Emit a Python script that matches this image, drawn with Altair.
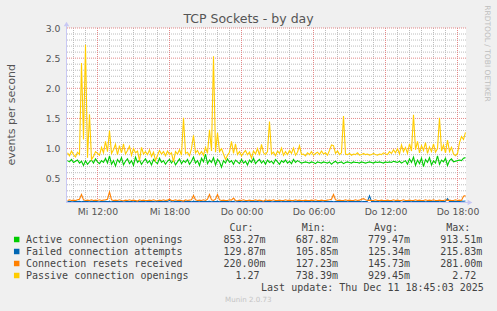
import altair as alt
import pandas as pd

# ---------------- texts ----------------
title_text = "TCP Sockets - by day"
y_axis_title = "events per second"
watermark = "RRDTOOL / TOBI OETIKER"
footer = "Munin 2.0.73"
last_update = "Last update: Thu Dec 11 18:45:03 2025"

# ---------------- axes ----------------
start_hour = 9.5          # Wed 09:30 (hours since Wed 00:00)
step_hours = 1.0 / 6.0    # 10-minute samples
x_domain = [9.375, 42.7083]
y_domain = [0.1058, 3.0]
x_ticks = [12, 18, 24, 30, 36, 42]
x_tick_labels = ["Mi 12:00", "Mi 18:00", "Do 00:00", "Do 06:00", "Do 12:00", "Do 18:00"]
y_ticks = [0.5, 1.0, 1.5, 2.0, 2.5, 3.0]
x_minor = [h for h in range(10, 43) if h not in x_ticks]
y_minor = [round(v / 10, 1) for v in range(2, 30) if v % 5 != 0]

# ---------------- legend ----------------
series_names = ["Active connection openings", "Failed connection attempts",
                "Connection resets received", "Passive connection openings"]
series_colors = ["#00CC00", "#0066B3", "#FF8000", "#FFCC00"]
col_headers = ["Cur:", "Min:", "Avg:", "Max:"]
cur_vals = ["853.27m", "129.87m", "220.00m", "  1.27"]
min_vals = ["687.82m", "105.85m", "127.23m", "738.39m"]
avg_vals = ["779.47m", "125.34m", "145.73m", "929.45m"]
max_vals = ["913.51m", "215.83m", "281.00m", "  2.72"]

# ---------------- series (10-minute samples) ----------------
active = [
    0.80, 0.78, 0.82, 0.77, 0.79, 0.81, 0.76, 0.79, 0.72, 0.80,
    0.74, 0.78, 0.81, 0.76, 0.83, 0.78, 0.75, 0.80, 0.77, 0.84,
    0.76, 0.88, 0.74, 0.80, 0.71, 0.82, 0.77, 0.85, 0.73, 0.79,
    0.83, 0.75, 0.80, 0.72, 0.86, 0.77, 0.81, 0.74, 0.79, 0.83,
    0.76, 0.80, 0.73, 0.82, 0.78, 0.75, 0.84, 0.77, 0.80, 0.74,
    0.79, 0.82, 0.76, 0.81, 0.73, 0.78, 0.83, 0.75, 0.80, 0.77,
    0.82, 0.74, 0.79, 0.86, 0.76, 0.80, 0.72, 0.84, 0.78, 0.91,
    0.75, 0.81, 0.77, 0.85, 0.73, 0.82, 0.78, 0.69, 0.80, 0.76,
    0.83, 0.77, 0.80, 0.74, 0.81, 0.78, 0.75, 0.82, 0.76, 0.79,
    0.73, 0.81, 0.77, 0.84, 0.75, 0.79, 0.82, 0.76, 0.80, 0.74,
    0.81, 0.77, 0.79, 0.75, 0.82, 0.78, 0.74, 0.80, 0.77, 0.81,
    0.76, 0.79, 0.75, 0.82, 0.77, 0.80, 0.78, 0.76, 0.77, 0.78,
    0.77, 0.76, 0.78, 0.77, 0.75, 0.78, 0.77, 0.76, 0.78, 0.77,
    0.76, 0.78, 0.74, 0.77, 0.79, 0.76, 0.77, 0.78, 0.75, 0.77,
    0.78, 0.77, 0.76, 0.78, 0.77, 0.77, 0.76, 0.78, 0.77, 0.76,
    0.77, 0.78, 0.77, 0.76, 0.78, 0.77, 0.78, 0.77, 0.76, 0.78,
    0.77, 0.78, 0.77, 0.79, 0.78, 0.77, 0.79, 0.76, 0.78, 0.80,
    0.74, 0.83, 0.77, 0.86, 0.72, 0.81, 0.75, 0.84, 0.70, 0.82,
    0.77, 0.85, 0.73, 0.80, 0.76, 0.88, 0.74, 0.81, 0.78, 0.84,
    0.72, 0.80, 0.83, 0.78, 0.79, 0.80, 0.81, 0.80, 0.84, 0.85,
]
failed = [
    0.120, 0.125, 0.118, 0.122, 0.128, 0.120, 0.124, 0.119, 0.126, 0.121,
    0.123, 0.118, 0.125, 0.120, 0.127, 0.122, 0.119, 0.124, 0.121, 0.126,
    0.120, 0.123, 0.118, 0.125, 0.121, 0.127, 0.120, 0.124, 0.119, 0.122,
    0.126, 0.120, 0.123, 0.118, 0.125, 0.121, 0.124, 0.120, 0.127, 0.119,
    0.122, 0.125, 0.120, 0.123, 0.118, 0.126, 0.121, 0.124, 0.120, 0.128,
    0.122, 0.140, 0.123, 0.119, 0.125, 0.121, 0.124, 0.118, 0.122, 0.126,
    0.120, 0.124, 0.119, 0.127, 0.121, 0.123, 0.118, 0.125, 0.120, 0.124,
    0.122, 0.126, 0.119, 0.123, 0.121, 0.125, 0.118, 0.124, 0.120, 0.122,
    0.126, 0.119, 0.123, 0.121, 0.135, 0.120, 0.124, 0.118, 0.122, 0.125,
    0.121, 0.119, 0.124, 0.120, 0.126, 0.122, 0.118, 0.123, 0.121, 0.125,
    0.120, 0.124, 0.119, 0.122, 0.126, 0.121, 0.123, 0.118, 0.125, 0.120,
    0.122, 0.124, 0.119, 0.121, 0.126, 0.120, 0.123, 0.122, 0.118, 0.124,
    0.121, 0.125, 0.119, 0.123, 0.120, 0.122, 0.126, 0.121, 0.118, 0.124,
    0.122, 0.120, 0.125, 0.119, 0.123, 0.121, 0.124, 0.120, 0.122, 0.126,
    0.119, 0.123, 0.121, 0.125, 0.120, 0.122, 0.124, 0.118, 0.123, 0.121,
    0.125, 0.216, 0.124, 0.120, 0.122, 0.126, 0.119, 0.123, 0.121, 0.124,
    0.120, 0.122, 0.125, 0.119, 0.123, 0.121, 0.124, 0.106, 0.122, 0.125,
    0.120, 0.123, 0.119, 0.124, 0.121, 0.126, 0.120, 0.122, 0.125, 0.119,
    0.123, 0.121, 0.124, 0.120, 0.122, 0.126, 0.119, 0.123, 0.121, 0.125,
    0.170, 0.124, 0.120, 0.122, 0.125, 0.121, 0.123, 0.128, 0.126, 0.130,
]
resets = [
    0.140, 0.150, 0.140, 0.145, 0.140, 0.150, 0.160, 0.240, 0.150, 0.140,
    0.145, 0.140, 0.150, 0.140, 0.145, 0.140, 0.150, 0.140, 0.145, 0.150,
    0.160, 0.281, 0.150, 0.140, 0.145, 0.140, 0.150, 0.140, 0.135, 0.145,
    0.140, 0.150, 0.140, 0.145, 0.140, 0.130, 0.150, 0.140, 0.145, 0.140,
    0.140, 0.145, 0.140, 0.150, 0.140, 0.135, 0.145, 0.140, 0.150, 0.140,
    0.145, 0.160, 0.140, 0.140, 0.150, 0.140, 0.145, 0.140, 0.130, 0.150,
    0.140, 0.145, 0.150, 0.220, 0.150, 0.140, 0.145, 0.140, 0.150, 0.140,
    0.160, 0.240, 0.150, 0.140, 0.160, 0.240, 0.150, 0.140, 0.145, 0.140,
    0.140, 0.150, 0.145, 0.180, 0.140, 0.135, 0.145, 0.140, 0.150, 0.140,
    0.140, 0.145, 0.140, 0.140, 0.150, 0.140, 0.145, 0.140, 0.127, 0.150,
    0.140, 0.145, 0.140, 0.150, 0.140, 0.140, 0.145, 0.140, 0.140, 0.150,
    0.140, 0.145, 0.140, 0.140, 0.150, 0.140, 0.145, 0.140, 0.140, 0.145,
    0.140, 0.140, 0.145, 0.140, 0.150, 0.140, 0.140, 0.145, 0.140, 0.140,
    0.145, 0.150, 0.160, 0.240, 0.150, 0.140, 0.145, 0.140, 0.140, 0.150,
    0.140, 0.145, 0.140, 0.140, 0.150, 0.140, 0.145, 0.160, 0.170, 0.150,
    0.140, 0.145, 0.140, 0.140, 0.150, 0.140, 0.140, 0.145, 0.140, 0.140,
    0.145, 0.140, 0.140, 0.150, 0.140, 0.145, 0.140, 0.140, 0.150, 0.140,
    0.140, 0.145, 0.140, 0.140, 0.150, 0.140, 0.145, 0.140, 0.140, 0.150,
    0.140, 0.145, 0.140, 0.150, 0.140, 0.140, 0.145, 0.140, 0.140, 0.150,
    0.140, 0.145, 0.140, 0.140, 0.150, 0.140, 0.145, 0.140, 0.210, 0.220,
]
passive = [
    0.93, 0.88, 0.96, 0.90, 0.86, 0.94, 0.90, 2.42, 1.15, 2.72,
    0.85, 1.57, 0.82, 0.87, 0.95, 0.92, 0.89, 1.02, 0.93, 1.12,
    0.95, 1.30, 0.92, 0.98, 1.07, 0.90, 1.05, 0.93, 1.08, 0.91,
    0.97, 1.04, 0.89, 1.00, 0.93, 0.96, 0.80, 1.02, 0.91, 0.95,
    0.90, 0.98, 0.87, 0.94, 0.80, 0.89, 0.97, 0.91, 0.95, 0.88,
    0.96, 0.90, 0.93, 0.78, 0.95, 0.91, 0.98, 0.89, 1.51, 0.92,
    0.94, 0.88, 1.00, 1.22, 0.93, 0.97, 0.90, 0.95, 0.89, 1.02,
    0.92, 1.31, 0.96, 2.53, 0.94, 1.26, 0.95, 1.00, 0.91, 0.82,
    0.89, 0.94, 1.12, 0.92, 1.08, 0.90, 0.95, 0.88, 0.93, 0.97,
    0.90, 0.94, 0.84, 0.96, 0.91, 1.00, 0.89, 1.07, 0.93, 0.90,
    0.95, 1.45, 0.91, 0.94, 0.88, 0.96, 0.92, 1.01, 0.89, 0.95,
    0.90, 0.97, 0.92, 1.01, 0.89, 0.94, 1.05, 0.90, 0.91, 0.88,
    0.93, 0.90, 0.95, 0.89, 0.92, 0.94, 0.90, 0.96, 0.91, 0.93,
    0.89, 0.97, 1.06, 1.05, 0.92, 0.96, 0.90, 0.93, 1.54, 0.91,
    0.90, 0.92, 0.89, 0.91, 0.90, 0.93, 0.89, 0.90, 0.92, 0.90,
    0.91, 0.89, 0.90, 0.92, 0.90, 0.89, 0.91, 0.90, 0.93, 0.91,
    0.90, 0.95, 0.92, 0.98, 0.93, 1.00, 0.91, 1.06, 0.95, 1.02,
    0.92, 1.08, 0.96, 1.56, 0.98, 1.12, 0.93, 1.05, 0.97, 1.10,
    0.92, 1.03, 0.95, 1.08, 0.94, 1.00, 1.51, 0.96, 1.06, 0.93,
    1.14, 0.95, 1.02, 0.91, 0.88, 0.92, 1.10, 1.20, 1.15, 1.27,
]

# ---------------- build tables ----------------
rows = []
for name, vals in zip(series_names, [active, failed, resets, passive]):
    for i, v in enumerate(vals):
        rows.append({"series": name, "h": start_hour + i * step_hours, "v": v})
df = pd.DataFrame(rows)

CHAR = 6.02  # monospace cell width at 10px
col_x = [157.5, 229.8, 302.0, 374.2]
legend_df = pd.DataFrame({"name": series_names, "color": series_colors})
legend_df["py"] = [211.5 + 12 * k for k in range(len(series_names))]
for field, vals, cx in zip(["cur", "min", "avg", "max"],
                           [cur_vals, min_vals, avg_vals, max_vals], col_x):
    legend_df[field] = [s.strip() for s in vals]
    legend_df[field + "_px"] = [cx + CHAR * (len(s) - len(s.lstrip())) for s in vals]

PW, PH = 400, 174.5
xs = alt.Scale(domain=x_domain, nice=False, zero=False)
ys = alt.Scale(domain=y_domain, nice=False, zero=False)

label_expr = ""
for t, l in zip(x_ticks, x_tick_labels):
    label_expr += f"datum.value == {t} ? '{l}' : "
label_expr += "''"

xax = alt.Axis(values=x_ticks, labelExpr=label_expr, title=None, grid=False,
               ticks=False, tickSize=0, domain=False, labelPadding=5,
               labelFont="DejaVu Sans", labelFontSize=9.3, labelColor="#555555",
               labelOverlap=False, labelFlush=False)
yax = alt.Axis(values=y_ticks, format=".1f", title=None, grid=False,
               ticks=False, tickSize=0, domain=False, labelPadding=6,
               labelFont="DejaVu Sans", labelFontSize=9.3, labelColor="#555555",
               labelOverlap=False, labelFlush=False)

one = pd.DataFrame({"a": [0]})
MINOR = "#BDBDBD"
MAJOR = "#E48888"
AXC = "#C8C8F4"

hminor = alt.Chart(pd.DataFrame({"v": y_minor})).mark_rule(
    color=MINOR, strokeDash=[1, 1], strokeWidth=1, opacity=1).encode(
    y=alt.Y("v:Q", scale=ys, axis=yax))
vminor = alt.Chart(pd.DataFrame({"h": x_minor})).mark_rule(
    color=MINOR, strokeDash=[1, 1], strokeWidth=1, opacity=1).encode(
    x=alt.X("h:Q", scale=xs, axis=xax))
hmajor = alt.Chart(pd.DataFrame({"v": y_ticks})).mark_rule(
    color=MAJOR, strokeDash=[1, 1], strokeWidth=1, opacity=1).encode(
    y=alt.Y("v:Q", scale=ys, axis=yax))
vmajor = alt.Chart(pd.DataFrame({"h": x_ticks})).mark_rule(
    color=MAJOR, strokeDash=[1, 1], strokeWidth=1, opacity=1).encode(
    x=alt.X("h:Q", scale=xs, axis=xax))

lines = []
for name, col in zip(series_names, series_colors):
    lines.append(
        alt.Chart(df).transform_filter(alt.datum.series == name).mark_line(
            color=col, strokeWidth=1.1, clip=True).encode(
            x=alt.X("h:Q", scale=xs, axis=xax),
            y=alt.Y("v:Q", scale=ys, axis=yax))
    )

yaxis_line = alt.Chart(one).mark_rule(color=AXC, strokeWidth=1).encode(
    x=alt.value(0.5), y=alt.value(-3), y2=alt.value(PH))
xaxis_line = alt.Chart(one).mark_rule(color=AXC, strokeWidth=1).encode(
    x=alt.value(0), x2=alt.value(403), y=alt.value(PH))
yarrow = alt.Chart(one).mark_point(shape="triangle-up", filled=True, size=30,
                                   color=AXC, opacity=1).encode(
    x=alt.value(0.5), y=alt.value(-4))
xarrow = alt.Chart(one).mark_point(shape="triangle-right", filled=True, size=30,
                                   color=AXC, opacity=1).encode(
    x=alt.value(404), y=alt.value(PH))

title = alt.Chart(one).mark_text(text=title_text, font="DejaVu Sans", fontSize=12.5,
                                 color="#555555", align="center", baseline="alphabetic").encode(
    x=alt.value(182.5), y=alt.value(-5))
ytitle = alt.Chart(one).mark_text(text=y_axis_title, font="DejaVu Sans", fontSize=11,
                                  color="#555555", align="center", baseline="middle",
                                  angle=270).encode(x=alt.value(-54), y=alt.value(86.7))
wm = alt.Chart(one).mark_text(text=watermark, font="DejaVu Sans", fontSize=7.5,
                              color="#BEBEBE", align="center", baseline="middle",
                              angle=90).encode(x=alt.value(421), y=alt.value(25.5))

mono = "DejaVu Sans Mono"
TXT = "#444444"
squares = alt.Chart(legend_df).mark_square(size=30, opacity=1).encode(
    x=alt.value(-49.3), y=alt.Y("py:Q", scale=None, axis=None),
    color=alt.Color("color:N", scale=None, legend=None))
names_txt = alt.Chart(legend_df).mark_text(font=mono, fontSize=10, color=TXT,
                                           align="left", baseline="middle").encode(
    x=alt.value(-40), y=alt.Y("py:Q", scale=None, axis=None), text="name:N")

col_layers = []
for field, cx, hdr in zip(["cur", "min", "avg", "max"], col_x, col_headers):
    col_layers.append(alt.Chart(legend_df).mark_text(
        font=mono, fontSize=10, color=TXT, align="left", baseline="middle").encode(
        x=alt.X(f"{field}_px:Q", scale=None, axis=None),
        y=alt.Y("py:Q", scale=None, axis=None), text=f"{field}:N"))
    col_layers.append(alt.Chart(one).mark_text(
        text=hdr, font=mono, fontSize=10, color=TXT, align="left", baseline="middle").encode(
        x=alt.value(cx + 6), y=alt.value(199.5)))

lu = alt.Chart(one).mark_text(text=last_update, font=mono, fontSize=10, color=TXT,
                              align="right", baseline="middle").encode(
    x=alt.value(417.8), y=alt.value(259.8))
ft = alt.Chart(one).mark_text(text=footer, font="DejaVu Sans", fontSize=7.1, color="#C4C4C4",
                              align="center", baseline="middle").encode(
    x=alt.value(182.3), y=alt.value(272))

chart = alt.layer(
    hminor, vminor, hmajor, vmajor, *lines,
    yaxis_line, xaxis_line, yarrow, xarrow,
    title, ytitle, wm, squares, names_txt, *col_layers, lu, ft,
).properties(
    width=PW, height=PH,
    autosize=alt.AutoSizeParams(type="none"),
    padding={"left": 66, "top": 28, "right": 31, "bottom": 108.5},
    background="#F0F0F0",
).configure_view(fill="white", stroke=None)

chart.save("out.html", embed_options={"renderer": "svg", "actions": False})
